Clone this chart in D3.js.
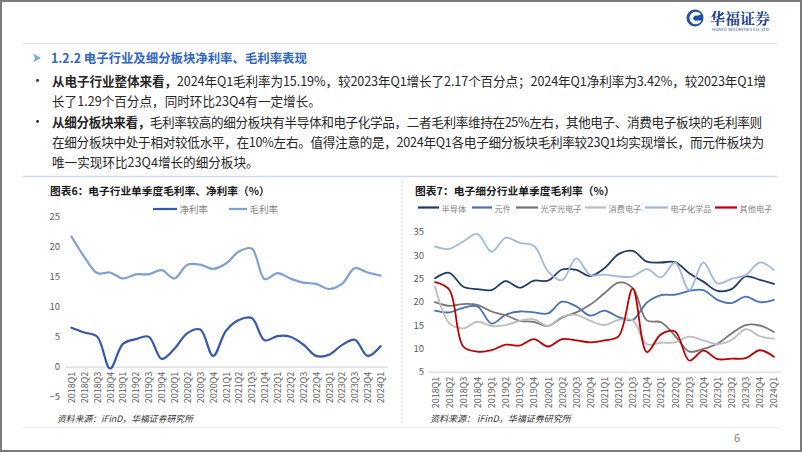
<!DOCTYPE html>
<html><head><meta charset="utf-8">
<script src="https://cdn.jsdelivr.net/npm/d3@7"></script>
<style>
html,body{margin:0;padding:0;background:#fff;}
svg{display:block;font-family:"Noto Sans CJK SC","Noto Sans",sans-serif;}
</style></head>
<body><svg id="c" width="802" height="452"></svg>
<script>
// ---------- data ----------
const quarters = ["2018Q1","2018Q2","2018Q3","2018Q4","2019Q1","2019Q2","2019Q3","2019Q4",
  "2020Q1","2020Q2","2020Q3","2020Q4","2021Q1","2021Q2","2021Q3","2021Q4",
  "2022Q1","2022Q2","2022Q3","2022Q4","2023Q1","2023Q2","2023Q3","2023Q4","2024Q1"];
// chart 6
const netMargin   = [6.5,5.7,5.0,-0.3,3.8,4.6,5.0,1.3,3.0,5.6,6.2,1.8,6.0,7.8,8.1,4.4,5.1,5.0,3.7,1.8,2.0,3.6,4.5,1.8,3.42];
const grossMargin = [21.7,18.3,15.6,15.7,14.7,15.4,15.4,16.1,14.7,17.0,17.0,16.3,17.2,19.2,19.7,14.6,15.6,14.7,14.0,13.8,12.95,13.8,16.4,15.7,15.19];
const leftNames = ["净利率","毛利率"];
const leftTicks = [-5,0,5,10,15,20,25];
// chart 7
const semiconductor = [25.0,26.2,23.2,22.7,22.5,24.4,23.0,24.5,24.5,26.9,26.8,25.5,27.2,30.2,30.9,28.6,28.4,28.5,26.1,24.3,22.3,22.7,25.4,24.7,23.8];
const components    = [18.1,17.7,18.7,19.0,15.3,17.2,17.9,17.7,17.5,20.0,19.0,17.0,18.1,16.7,16.1,19.8,21.4,21.5,22.3,22.5,20.4,19.7,21.1,19.9,20.4];
const optoelec      = [19.9,19.1,19.5,19.3,17.9,17.1,15.9,15.7,14.8,16.6,17.7,19.4,21.8,24.1,22.9,16.0,15.6,12.7,9.3,9.9,11.0,13.2,15.0,14.9,13.5];
const consumerElec  = [23.2,15.4,14.3,15.7,14.8,15.0,15.9,16.2,14.8,16.8,17.2,15.9,15.0,16.1,16.0,10.9,11.2,11.3,12.5,11.7,10.9,11.8,14.1,12.6,12.1];
const elecChem      = [31.8,31.3,32.9,34.5,30.7,33.7,32.6,32.0,26.5,24.6,29.3,25.7,25.8,25.4,25.4,27.0,25.2,28.4,22.5,28.4,23.9,24.9,25.7,28.4,26.8];
const otherElec     = [24.2,22.6,10.4,9.3,9.6,10.8,10.6,12.0,10.4,12.0,11.7,11.3,11.7,12.6,22.8,9.2,13.0,13.6,7.4,9.5,7.7,7.8,7.9,9.6,8.2];
const rightNames = ["半导体","元件","光学光电子","消费电子","电子化学品","其他电子"];
const rightTicks = [5,10,15,20,25,30,35];

// ---------- page ----------
const svg = d3.select("#c");
const F = '"Noto Sans CJK SC","Noto Sans",sans-serif';
function fit(sel, w){ const n=sel.node(); const fs=parseFloat(sel.attr("font-size")); const L=n.getComputedTextLength(); if(L>0) sel.attr("font-size", (fs*w/L).toFixed(2)); return sel; }

svg.append("rect").attr("x",1).attr("y",1).attr("width",800).attr("height",450)
  .attr("fill","#fff").attr("stroke","#7a7a7a").attr("stroke-width",2);

// logo
const lg = svg.append("g");
lg.append("circle").attr("cx",695).attr("cy",18).attr("r",8.5).attr("fill","#1d4fa3");
lg.append("path").attr("d","M701,14.5 A6.3,6.3 0 1 0 701.5,20.5 L697,20.5 A2.6,2.6 0 1 1 697,15.8 Z")
  .attr("fill","#fff");
lg.append("circle").attr("cx",695.5).attr("cy",18.2).attr("r",2).attr("fill","#1d4fa3");
fit(lg.append("text").attr("x",710).attr("y",24).attr("font-size",15).attr("font-weight",700)
  .attr("fill","#1b3f8f").attr("font-family",'"Noto Serif CJK SC","Noto Sans CJK SC",serif').text("华福证券"),60);
lg.append("text").attr("x",712).attr("y",31).attr("font-size",3.6).attr("fill","#1b3f8f")
  .attr("textLength",57).attr("lengthAdjust","spacingAndGlyphs").text("HUAFU SECURITIES CO.,LTD");
svg.append("line").attr("x1",23).attr("x2",777).attr("y1",43.5).attr("y2",43.5).attr("stroke","#e3e3e3").attr("stroke-width",1.5);

// section title
svg.append("path").attr("d","M33,53.5 L41,58 L33,62.5 L35,58 Z").attr("fill","#7fa7dc");
fit(svg.append("text").attr("x",51).attr("y",58).attr("dominant-baseline","central").attr("font-size",13)
  .attr("font-weight",600).attr("fill","#2f66c4").text("1.2.2  电子行业及细分板块净利率、毛利率表现"),256);

// bullet text
const lines = [
  {y:79.5, b:"从电子行业整体来看，", t:"2024年Q1毛利率为15.19%，较2023年Q1增长了2.17个百分点；2024年Q1净利率为3.42%，较2023年Q1增", w:714, dot:true},
  {y:100, b:"", t:"长了1.29个百分点，同时环比23Q4有一定增长。", w:null},
  {y:120.5, b:"从细分板块来看，", t:"毛利率较高的细分板块有半导体和电子化学品，二者毛利率维持在25%左右，其他电子、消费电子板块的毛利率则", w:710, dot:true},
  {y:140.5, b:"", t:"在细分板块中处于相对较低水平，在10%左右。值得注意的是，2024年Q1各电子细分板块毛利率较23Q1均实现增长，而元件板块为", w:712},
  {y:160.5, b:"", t:"唯一实现环比23Q4增长的细分板块。", w:null}
];
lines.forEach(l=>{
  if(l.dot) svg.append("text").attr("x",31).attr("y",l.y).attr("dominant-baseline","central")
     .attr("font-size",13).attr("fill","#222").text("•");
  const t = svg.append("text").attr("x",52).attr("y",l.y).attr("dominant-baseline","central")
     .attr("font-size",12.6).attr("fill","#262626");
  if(l.b) t.append("tspan").attr("font-weight",700).text(l.b);
  t.append("tspan").text(l.t);
  if(l.w) t.attr("textLength",l.w).attr("lengthAdjust","spacing");
});

svg.append("line").attr("x1",23).attr("x2",777).attr("y1",176.5).attr("y2",176.5).attr("stroke","#cdd9ee").attr("stroke-width",1.5);
svg.append("line").attr("x1",402).attr("x2",402).attr("y1",181).attr("y2",424).attr("stroke","#c9d3e8").attr("stroke-dasharray","2,2");
svg.append("line").attr("x1",23).attr("x2",780).attr("y1",427.5).attr("y2",427.5).attr("stroke","#eeeeee").attr("stroke-width",1.2);
svg.append("text").attr("x",737).attr("y",437).attr("dominant-baseline","central").attr("text-anchor","middle")
  .attr("font-size",11).attr("fill","#7f7f7f").text("6");

// ---------- chart helper ----------
function drawChart(o){
  const g = svg.append("g");
  const x = d3.scaleBand().domain(quarters).range(o.xr);
  const y = d3.scaleLinear().domain(o.dom).range(o.yr);
  // y labels
  const ya = g.append("g").attr("transform",`translate(${o.yLabX},0)`)
    .call(d3.axisLeft(y).tickValues(o.ticks).tickSize(0).tickPadding(0));
  ya.select(".domain").remove();
  ya.selectAll("text").attr("font-family",F).attr("font-size",9.5).attr("fill","#595959");
  // x axis
  const xa = g.append("g").attr("transform",`translate(0,${y(o.base)})`)
    .call(d3.axisBottom(x).tickSize(0).tickPadding(0));
  xa.select(".domain").attr("stroke","#d9d9d9").attr("stroke-width",1.2);
  xa.selectAll("text").attr("font-family",F).attr("font-size",9).attr("fill","#595959")
    .attr("text-anchor","end").attr("dominant-baseline","central")
    .attr("transform",`translate(0,${o.labOff}) rotate(-90)`).attr("x",0).attr("y",0).attr("dy",null);
  const line = d3.line().x((d,i)=>x(quarters[i])+x.bandwidth()/2).y(d=>y(d)).curve(d3.curveCatmullRom.alpha(0.5));
  o.series.forEach(s=>{
    g.append("path").datum(s.v).attr("d",line).attr("fill","none").attr("stroke",s.c)
      .attr("stroke-width",o.lw).attr("stroke-linejoin","round").attr("stroke-linecap","round");
  });
  // legend
  o.series.forEach((s,i)=>{
    const L = o.leg[i];
    g.append("line").attr("x1",L[0]).attr("x2",L[1]).attr("y1",o.legY).attr("y2",o.legY).attr("stroke",s.c).attr("stroke-width",2.2);
    g.append("text").attr("x",L[1]+2.5).attr("y",o.legY).attr("dominant-baseline","central")
      .attr("font-size",o.legFs).attr("fill","#7f7f7f").text(s.n);
  });
  // title
  fit(g.append("text").attr("x",o.tx).attr("y",190).attr("dominant-baseline","central").attr("font-size",12)
    .attr("font-weight",700).attr("fill","#1a1a1a").text(o.title), o.tw);
  fit(g.append("text").attr("x",o.sx).attr("y",418.5).attr("dominant-baseline","central").attr("font-size",9.5)
    .attr("font-style","italic").attr("fill","#333").text(o.src), o.sw);
}

drawChart({
  xr:[65,387], dom:[-5,25], yr:[396.7,216.7], ticks:leftTicks, base:0, yLabX:60, labOff:5, lw:2.2,
  series:[{n:leftNames[0],v:netMargin,c:"#3458ae"},{n:leftNames[1],v:grossMargin,c:"#7e9fd3"}],
  leg:[[153,177],[229,247]], legY:209, legFs:9.5,
  title:"图表6：电子行业单季度毛利率、净利率（%）", tx:50, tw:220,
  src:"资料来源：iFinD，华福证券研究所", sx:57, sw:136
});
drawChart({
  xr:[428,781], dom:[5,35], yr:[371.7,231.7], ticks:rightTicks, base:5, yLabX:424, labOff:5, lw:1.8,
  series:[
    {n:rightNames[0],v:semiconductor,c:"#1f3a68"},
    {n:rightNames[1],v:components,c:"#4471b8"},
    {n:rightNames[2],v:optoelec,c:"#767676"},
    {n:rightNames[3],v:consumerElec,c:"#bdbdbd"},
    {n:rightNames[4],v:elecChem,c:"#9fb8de"},
    {n:rightNames[5],v:otherElec,c:"#c00000"}],
  leg:[[418,439],[472,492],[516,538],[585,606],[645,668],[715,737]], legY:207.5, legFs:8.2,
  title:"图表7：电子细分行业单季度毛利率（%）", tx:415, tw:200,
  src:"资料来源： iFinD，华福证券研究所", sx:430, sw:141
});
</script></body></html>
